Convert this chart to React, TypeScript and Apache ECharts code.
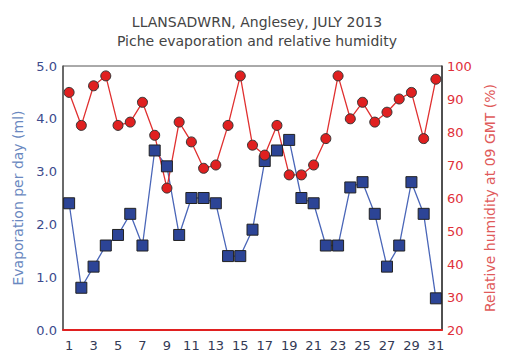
import React, { useEffect, useRef } from "react";
import * as echarts from "echarts";

const days = Array.from({ length: 31 }, (_, i) => String(i + 1));
const evaporation = [2.4, 0.8, 1.2, 1.6, 1.8, 2.2, 1.6, 3.4, 3.1, 1.8, 2.5, 2.5, 2.4, 1.4, 1.4, 1.9, 3.2, 3.4, 3.6, 2.5, 2.4, 1.6, 1.6, 2.7, 2.8, 2.2, 1.2, 1.6, 2.8, 2.2, 0.6];
const humidity = [92, 82, 94, 97, 82, 83, 89, 79, 63, 83, 77, 69, 70, 82, 97, 76, 73, 82, 67, 67, 70, 78, 97, 84, 89, 83, 86, 90, 92, 78, 96];

const FONT = "DejaVu Sans";

export default function App() {
  const ref = useRef<HTMLDivElement>(null);
  useEffect(() => {
    const chart = echarts.init(ref.current!, null, { renderer: "svg" });
    chart.setOption({
      animation: false,
      backgroundColor: "#ffffff",
      title: {
        text: "LLANSADWRN, Anglesey, JULY 2013\nPiche evaporation and relative humidity",
        left: 252,
        textAlign: "center",
        top: 7,
        textStyle: { fontFamily: FONT, fontSize: 14, fontWeight: "normal", color: "#444", lineHeight: 19 },
      },
      grid: { left: 63, right: 71, top: 66, bottom: 30, show: true, borderColor: "#555", borderWidth: 1 },
      xAxis: {
        type: "category",
        data: days,
        boundaryGap: true,
        axisLine: { lineStyle: { color: "#e02020", width: 2 } },
        axisTick: { show: false },
        axisLabel: { interval: 1, fontFamily: FONT, fontSize: 13, color: "#333a55", margin: 9 },
      },
      yAxis: [
        {
          type: "value",
          min: 0,
          max: 5,
          interval: 1,
          name: "Evaporation per day (ml)",
          nameLocation: "middle",
          nameGap: 34,
          nameTextStyle: { fontFamily: FONT, fontSize: 14, color: "#6a88c0" },
          axisLine: { show: true, lineStyle: { color: "#555", width: 1.5 } },
          axisTick: { show: false },
          splitLine: { show: false },
          axisLabel: { formatter: (v: number) => v.toFixed(1), fontFamily: FONT, fontSize: 13, color: "#3c4a8c", margin: 6 },
        },
        {
          type: "value",
          min: 20,
          max: 100,
          interval: 10,
          name: "Relative humidity at 09 GMT (%)",
          nameLocation: "middle",
          nameGap: 40,
          nameRotate: 90,
          nameTextStyle: { fontFamily: FONT, fontSize: 14, color: "#e05a5a" },
          axisLine: { show: true, lineStyle: { color: "#333", width: 1.5 } },
          axisTick: { show: false },
          splitLine: { show: false },
          axisLabel: { fontFamily: FONT, fontSize: 13, color: "#e0303a", margin: 5 },
        },
      ],
      series: [
        {
          type: "line",
          data: evaporation,
          yAxisIndex: 0,
          symbol: "rect",
          symbolSize: 11,
          showAllSymbol: true,
          lineStyle: { color: "#4a66b8", width: 1.3 },
          itemStyle: { color: "#2c4496", borderColor: "#222", borderWidth: 1 },
        },
        {
          type: "line",
          data: humidity,
          yAxisIndex: 1,
          symbol: "circle",
          symbolSize: 10,
          showAllSymbol: true,
          lineStyle: { color: "#e03030", width: 1.3 },
          itemStyle: { color: "#e02020", borderColor: "#333", borderWidth: 1 },
        },
      ],
    });
    return () => chart.dispose();
  }, []);
  return <div ref={ref} style={{ width: 513, height: 360, margin: -8 }} />;
}
